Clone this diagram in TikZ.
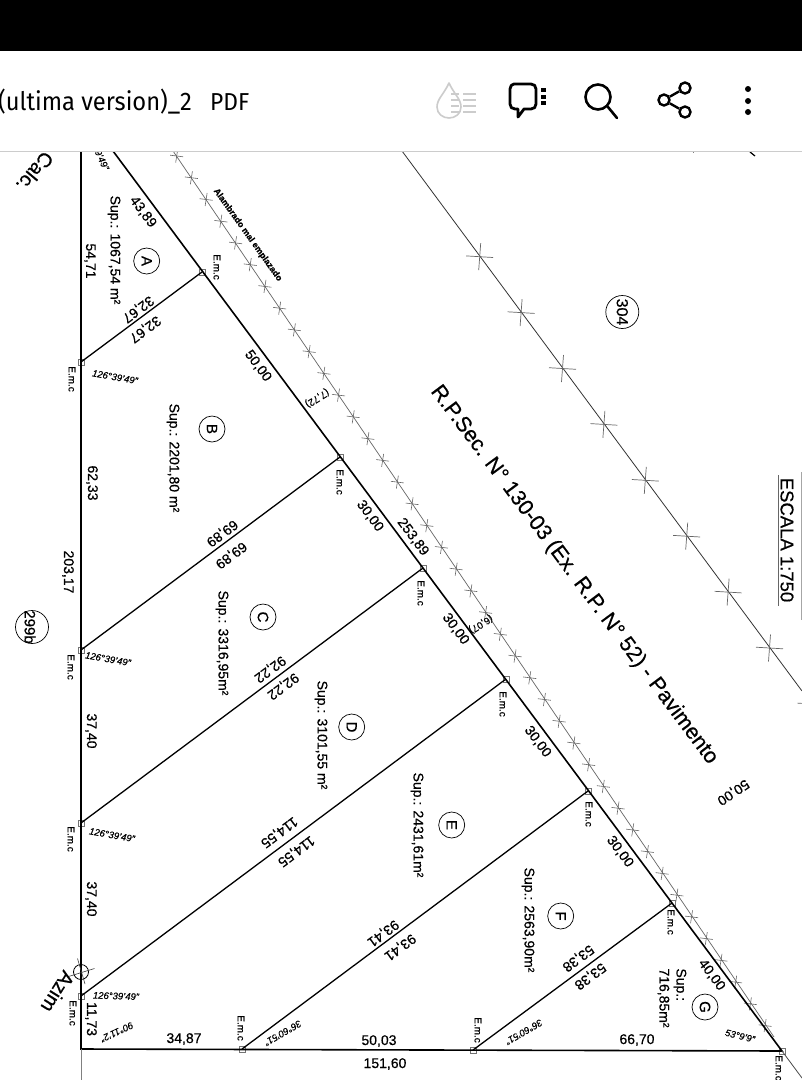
\documentclass[tikz,border=0pt]{standalone}
\usepackage{fontspec}
\setmainfont{Liberation Sans}[FakeBold=0.5]
\newfontfamily\barfont{Fira Sans}[FakeStretch=0.93]
\newcommand{\sizepx}[1]{\fontsize{#1}{#1}\selectfont}
\newcommand{\wirecross}[2]{%
  \draw[crossline] (#1) ++(-#2,-0.8) -- ++(2*#2,1.6);
  \draw[crossline] (#1) ++(1,-#2) -- ++(-2,2*#2);
}
\tikzset{
  lbl/.style={font=\sizepx{14}, inner sep=0pt},
  vlbl/.style={lbl, rotate=-90},
  dlbl/.style={lbl, rotate=-53.3},
  ilbl/.style={lbl, rotate=-143.3},
  emc/.style={font=\sizepx{10}, inner sep=0pt, rotate=-90},
  angl/.style={font=\itshape\sizepx{9.5}, inner sep=0pt},
  emcbox/.style={draw=black!55, line width=0.6pt, minimum size=6pt, inner sep=0pt},
  lotcirc/.style={draw, circle, line width=0.7pt, minimum size=26pt, inner sep=0pt, font=\sizepx{15}},
  parcirc/.style={draw, circle, line width=0.7pt, minimum size=33pt, inner sep=0pt, font=\sizepx{16}},
  heavy/.style={line width=1.6pt},
  split/.style={line width=1.3pt},
  crossline/.style={line width=0.6pt, black!60},
  barline/.style={line width=2.8pt, line cap=round, line join=round},
}
\begin{document}
\begin{tikzpicture}[x=1pt,y=-1pt]
  \useasboundingbox (0,0) rectangle (802,1080);
  \fill[white] (0,0) rectangle (802,1080);

  \begin{scope}
  \clip (0,151) rectangle (802,1080);
  % road line
  \coordinate (R0) at (402,151);
  \coordinate (R1) at (802,691);
  \draw[line width=0.8pt, black!80] (R0) -- (R1);
  \foreach \i in {0,...,8} {
    \coordinate (c) at ({479.7+41.4*\i},{256.7+55.9*\i});
    \begin{scope}[crossline/.append style={line width=0.7pt}]
    \wirecross{c}{13.5}
    \end{scope}
  }
  % wire fence
  \coordinate (F0) at (173,151);
  \coordinate (F1) at (774,1037);
  \draw[line width=0.7pt, black!60] (F0) -- (F1);
  \foreach \i in {0,...,40} {
    \coordinate (c) at ({176.7+14.71*\i},{156+21.74*\i});
    \wirecross{c}{6.5}
  }

  % lot corners
  \node[emcbox] (L1) at (81,362) {};
  \node[emcbox] (L2) at (81,650) {};
  \node[emcbox] (L3) at (81,823) {};
  \node[emcbox] (L4) at (81,996) {};
  \node[emcbox] (M1) at (202,272) {};
  \node[emcbox] (M2) at (340,457) {};
  \node[emcbox] (M3) at (423,568) {};
  \node[emcbox] (M4) at (506,679) {};
  \node[emcbox] (M5) at (588,791) {};
  \node[emcbox] (M6) at (672,903) {};
  \node[emcbox] (B1) at (242,1049) {};
  \node[emcbox] (B2) at (473,1050) {};
  \node[emcbox] (E) at (782,1051) {};
  \coordinate (C) at (81,1049);
  \coordinate (T) at (113,151);
  \coordinate (Tl) at (81,151);
  \coordinate (Cb) at (81,1080);
  \coordinate (Eb) at (802,1078);

  \draw[heavy] (Tl) -- (C) -- (E.center) -- (T);
  \draw[line width=1pt, black!50] (C) -- (Cb);
  \draw[line width=0.8pt, black!70] (E.center) -- (Eb);
  \draw[split] (L1.center) -- (M1.center);
  \draw[split] (L2.center) -- (M2.center);
  \draw[split] (L3.center) -- (M3.center);
  \draw[split] (L4.center) -- (M4.center);
  \draw[split] (B1.center) -- (M5.center);
  \draw[split] (B2.center) -- (M6.center);

  % azimuth mark
  \node[draw, circle, line width=0.8pt, minimum size=15pt, inner sep=0pt] (AZ) at (81,972) {};
  \draw[crossline, black!75] (77.5,958.5) -- (85,984);
  \draw[crossline, black!75] (68.5,976.5) -- (94.5,968.5);
  \node[inner sep=0pt, rotate=-122, font=\sizepx{20}] (azim) at (58,992) {Azim};
  \node[inner sep=0pt, rotate=-130, font=\sizepx{20}] (calc) at (35,172) {Calc.};

  % lots
  \node[lotcirc] (A) at (146.7,261) {\rotatebox{-90}{A}};
  \node[lotcirc] (Bb) at (212,429) {\rotatebox{-90}{B}};
  \node[lotcirc] (Cc) at (263,617) {\rotatebox{-90}{C}};
  \node[lotcirc] (D) at (351.7,727) {\rotatebox{-90}{D}};
  \node[lotcirc] (Ee) at (451.7,825) {\rotatebox{-90}{E}};
  \node[lotcirc] (Ff) at (560.7,916) {\rotatebox{-90}{F}};
  \node[lotcirc] (G) at (705,1007) {\rotatebox{-90}{G}};
  \node[parcirc] (p299) at (32,627) {};
  \node[vlbl, font=\sizepx{15}] (t299) at (30,627) {299b};
  \node[parcirc] (p304) at (622.3,312) {\rotatebox{-90}{304}};

  \node[vlbl] (supA) at (114,250) {Sup.: 1067,54 m²};
  \node[vlbl] (supB) at (173,458) {Sup.: 2201,80 m²};
  \node[vlbl] (supC) at (222,643) {Sup.: 3316,95m²};
  \node[vlbl] (supD) at (321,735) {Sup.: 3101,55 m²};
  \node[vlbl] (supE) at (417,825) {Sup.: 2431,61m²};
  \node[vlbl] (supF) at (528,920) {Sup.: 2563,90m²};
  \node[vlbl, align=left] (supG) at (672,998) {Sup.:\\[3pt]716,85m²};

  % left side
  \node[vlbl] (l1) at (90,261) {54,71};
  \node[vlbl] (l2) at (92,483) {62,33};
  \node[vlbl] (l3) at (68,572) {203,17};
  \node[vlbl] (l4) at (91,731) {37,40};
  \node[vlbl] (l5) at (91,899) {37,40};
  \node[vlbl] (l6) at (91,1019) {11,73};

  % bottom side
  \node[lbl] (b1) at (184,1039) {34,87};
  \node[lbl] (b2) at (379,1041) {50,03};
  \node[lbl] (b3) at (637,1040) {66,70};
  \node[lbl] (b4) at (385,1064) {151,60};

  % long side
  \node[dlbl] (d1) at (143,212) {43,89};
  \node[dlbl] (d2) at (258,366) {50,00};
  \node[dlbl] (d3) at (370,516) {30,00};
  \node[dlbl] (d4) at (413,537) {253,89};
  \node[dlbl] (d5) at (455.7,629) {30,00};
  \node[dlbl] (d6) at (537.7,741.7) {30,00};
  \node[dlbl] (d7) at (620,851.7) {30,00};
  \node[dlbl] (d8) at (711.7,975) {40,00};
  \node[lbl, rotate=-146] (road50) at (733,792) {50,00};
  \node[font=\sizepx{10}, inner sep=0pt, rotate=-148] (off1) at (317,398) {(7,72)};
  \node[font=\sizepx{10}, inner sep=0pt, rotate=-148] (off2) at (480.7,624) {(6,07)};

  % split lines
  \node[ilbl] (s1a) at (138,309) {32,67};
  \node[ilbl] (s1b) at (145,329) {32,67};
  \node[ilbl] (s2a) at (222,533) {69,89};
  \node[ilbl] (s2b) at (231,555) {69,89};
  \node[ilbl] (s3a) at (270,669) {92,22};
  \node[ilbl] (s3b) at (283,686) {92,22};
  \node[ilbl] (s4a) at (279,832) {114,55};
  \node[ilbl] (s4b) at (296,851) {114,55};
  \node[ilbl] (s5a) at (383,933) {93,41};
  \node[ilbl] (s5b) at (400,947) {93,41};
  \node[ilbl] (s6a) at (578,958) {53,38};
  \node[ilbl] (s6b) at (590,976) {53,38};

  % E.m.c
  \node[emc] (e1) at (72,379) {E.m.c};
  \node[emc] (e2) at (71,667) {E.m.c};
  \node[emc] (e3) at (71,839) {E.m.c};
  \node[emc] (e4) at (73,1013) {E.m.c};
  \node[emc] (e5) at (217,267) {E.m.c};
  \node[emc] (e6) at (340,482) {E.m.c};
  \node[emc] (e7) at (421,593) {E.m.c};
  \node[emc] (e8) at (503,704) {E.m.c};
  \node[emc] (e9) at (589,814) {E.m.c};
  \node[emc] (e10) at (671,922) {E.m.c};
  \node[emc] (e11) at (241,1028) {E.m.c};
  \node[emc] (e12) at (478,1030) {E.m.c};
  \node[emc] (e13) at (779,1068) {E.m.c};

  % angles
  \node[angl, rotate=-65] (a0) at (102,160) {9'49"};
  \node[angl, rotate=-10] (a1) at (115,377) {126°39'49"};
  \node[angl, rotate=-10] (a2) at (108,659) {126°39'49"};
  \node[angl, rotate=-10] (a3) at (112,835) {126°39'49"};
  \node[angl, rotate=-2] (a4) at (116,996) {126°39'49"};
  \node[angl, rotate=-155] (a5) at (117,1032) {90°11'2"};
  \node[angl, rotate=-150] (a6) at (283,1033) {36°60'51"};
  \node[angl, rotate=-150] (a7) at (524,1032) {36°60'51"};
  \node[angl, rotate=-14] (a8) at (740,1036) {53°9'9"};

  % road and scale
  \node[inner sep=0pt, rotate=-53.3, font=\sizepx{21.5}] (road) at (574,575) {R.P.Sec. N° 130-03 (Ex. R.P. N° 52) - Pavimento};
  \node[inner sep=0pt, rotate=-54.5, font=\bfseries\sizepx{8.8}] (fence) at (247.7,235) {Alambrado mal emplazado};
  \node[inner sep=0pt, rotate=-90, font=\sizepx{18.5}] (scale) at (787,540) {ESCALA 1:750};
  \coordinate (sc0) at (778,475);
  \coordinate (sc1) at (778,606);
  \coordinate (sc2) at (801.5,472);
  \coordinate (sc3) at (801.5,620);
  \draw[line width=0.8pt, black!60] (sc0) -- (sc1);
  \draw[line width=0.6pt, black!35] (sc2) -- (sc3);
  % stray marks at the top edge
  \draw[line width=0.8pt, black!50] (693,151) -- (693,153);
  \draw[line width=1.2pt] (750,152) -- (755,156);
  \end{scope}

  % app bar
  \fill[black] (0,0) rectangle (802,51);
  \draw[line width=1pt, black!20] (0,151) -- (802,151);
  \node[anchor=base west, inner sep=0pt, font=\barfont\sizepx{25.5}] (title) at (-2,110) {(ultima version)\_2};
  \node[anchor=base west, inner sep=0pt, font=\barfont\sizepx{24.5}] (pdf) at (210,110) {PDF};

  % drop
  \draw[line width=1.6pt, black!20, line join=round] (449,83) .. controls (444,94) and (437,99) .. (437,107) .. controls (437,114) and (443,118) .. (449,118) .. controls (455,118) and (461,114) .. (461,107) .. controls (461,99) and (454,94) .. (449,83) -- cycle;
  \foreach \yy in {94,100,106,112} {
    \draw[line width=1.6pt, black!20] (463,\yy) -- (476,\yy);
    \draw[line width=1.6pt, black!20] (451,\yy) -- (459,\yy);
  }
  % bubble
  \draw[barline] (514,84) -- (531,84) .. controls (534,84) and (536,86) .. (536,89) -- (536,104) .. controls (536,107) and (534,109) .. (531,109) -- (524,109) -- (518,117) -- (518,109) -- (515,109) .. controls (512,109) and (510,107) .. (510,104) -- (510,89) .. controls (510,86) and (512,84) .. (514,84) -- cycle;
  \foreach \yy in {88,95,101}
    \fill (541,\yy) rectangle ++(5,3.5);
  % search
  \node[draw, circle, line width=2.6pt, minimum size=25pt, inner sep=0pt] (lens) at (598,97) {};
  \coordinate (lensh) at (617,118);
  \draw[barline, line width=2.6pt] (lens.-45) -- (lensh);
  % share
  \node[draw, circle, line width=2.4pt, minimum size=11pt, inner sep=0pt] (sh1) at (685,88) {};
  \node[draw, circle, line width=2.4pt, minimum size=11pt, inner sep=0pt] (sh2) at (664,100) {};
  \node[draw, circle, line width=2.4pt, minimum size=11pt, inner sep=0pt] (sh3) at (685,112) {};
  \draw[line width=2.4pt] (sh1) -- (sh2) -- (sh3);
  % menu
  \foreach \yy in {89,101,112}
    \fill (748,\yy) circle (3);
\end{tikzpicture}
\end{document}
